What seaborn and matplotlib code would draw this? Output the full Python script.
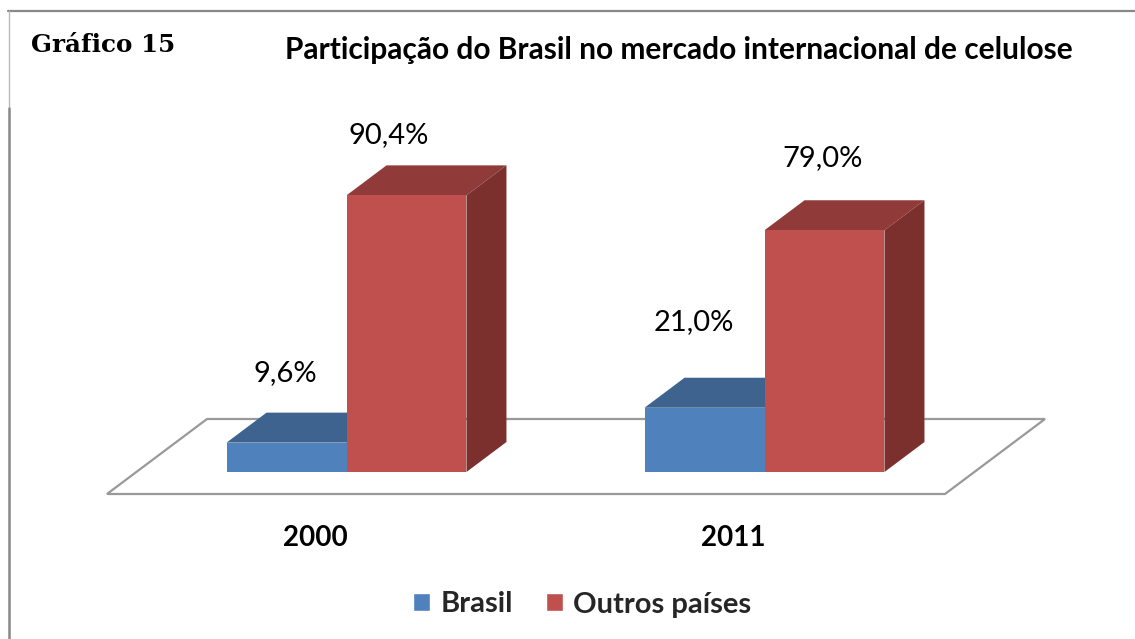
import matplotlib
matplotlib.use("Agg")
import matplotlib.pyplot as plt
import matplotlib.transforms as mtrans
import pandas as pd
import seaborn as sns
from matplotlib.patches import Polygon

anos = ["2000", "2011"]
series = ["Brasil", "Outros países"]
brasil = [9.6, 21.0]
outros = [90.4, 79.0]
rotulos_brasil = ["9,6%", "21,0%"]
rotulos_outros = ["90,4%", "79,0%"]

cores = ["#4F81BD", "#C0504D"]
cores_topo = ["#3E638F", "#903B39"]
cores_lado = ["#345378", "#7B302E"]

W, H = 1135, 639
BASE = 472  # pixel of the zero line
PX_X = 418  # pixels between the two groups
PX_Y = 3.06  # pixels per percentage point
DX, DY = 40 / PX_X, 30 / PX_Y  # depth of the fake 3d

sns.set_style("white")
plt.rcParams["font.family"] = ["Lato", "DejaVu Sans"]

df = pd.DataFrame({
    "ano": anos * 2,
    "serie": [series[0]] * 2 + [series[1]] * 2,
    "valor": brasil + outros,
})

fig = plt.figure(figsize=(W / 100, H / 100), dpi=100)
ax = fig.add_axes([0, (H - BASE) / H, 1, BASE / H])
ax.patch.set_alpha(0)

sns.barplot(data=df, x="ano", y="valor", hue="serie", hue_order=series,
            palette=cores, width=0.574, gap=0, saturation=1, ax=ax)

ax.set_xlim(-346.5 / PX_X, (W - 346.5) / PX_X)
ax.set_ylim(0, BASE / PX_Y)


def px(x, y):
    # floor and frame are placed in figure pixels
    return (x - 346.5) / PX_X, (BASE - y) / PX_Y


chao = Polygon([px(107, 494), px(945, 494), px(1045, 419), px(207, 419)],
               closed=True, fc="white", ec="#999999", lw=1.6, zorder=1, clip_on=False)
ax.add_patch(chao)

for i, cont in enumerate(ax.containers):
    z = 3 + i * 2
    for bar in cont:
        x0, w, h = bar.get_x(), bar.get_width(), bar.get_height()
        bar.set_zorder(z + 1)
        bar.set_linewidth(0)
        ax.add_patch(Polygon([(x0, h), (x0 + DX, h + DY), (x0 + w + DX, h + DY), (x0 + w, h)],
                             closed=True, fc=cores_topo[i], ec="none", zorder=z))
        ax.add_patch(Polygon([(x0 + w, 0), (x0 + w + DX, DY), (x0 + w + DX, h + DY), (x0 + w, h)],
                             closed=True, fc=cores_lado[i], ec="none", zorder=z))

# data labels, offsets in pixels from the top centre of each bar
desloc = [[(-1, 70), (-11, 86)], [(-18, 60), (-2, 72)]]
rotulos = [rotulos_brasil, rotulos_outros]
for i, cont in enumerate(ax.containers):
    for j, bar in enumerate(cont):
        ax.annotate(rotulos[i][j], (bar.get_x() + bar.get_width() / 2, bar.get_height()),
                    xytext=desloc[i][j], textcoords="offset pixels",
                    ha="center", va="center", fontsize=21, color="black", zorder=9)

sns.despine(ax=ax, left=True, bottom=True)
ax.set_xlabel("")
ax.set_ylabel("")
ax.set_yticks([])
ax.tick_params(axis="x", length=0, pad=38)
ax.set_xticks(range(len(anos)), anos, fontsize=20, fontweight="bold", color="black")
# the year labels sit left of the group centres in the original
desl_ticks = mtrans.ScaledTranslation(-31 / 100, 0, fig.dpi_scale_trans)
for t in ax.get_xticklabels():
    t.set_transform(t.get_transform() + desl_ticks)

leg = ax.legend(loc="center", bbox_to_anchor=(582 / W, 1 - 604.5 / H), bbox_transform=fig.transFigure,
                ncol=2, frameon=False, prop={"size": 21, "weight": "bold"},
                handlelength=0.6, handleheight=0.6, handletextpad=0.34, columnspacing=1.13)

fig.text(31 / W, 1 - 45 / H, "Gráfico 15", fontsize=17.7, fontweight="bold",
         family="DejaVu Serif", ha="left", va="center", color="black")
fig.text(679 / W, 1 - 50 / H, "Participação do Brasil no mercado internacional de celulose",
         fontsize=21.5, fontweight="bold", ha="center", va="center", color="black")

# frame of the page
fig.add_artist(plt.Line2D([8 / W, 1], [1 - 11 / H, 1 - 11 / H], color="#888888", lw=1.6))
fig.add_artist(plt.Line2D([8.5 / W, 8.5 / W], [1 - 11 / H, 1 - 108 / H], color="#BBBBBB", lw=1))
fig.add_artist(plt.Line2D([9 / W, 9 / W], [1 - 108 / H, 0], color="#888888", lw=1.8))

fig.savefig("out.png", dpi=100)
